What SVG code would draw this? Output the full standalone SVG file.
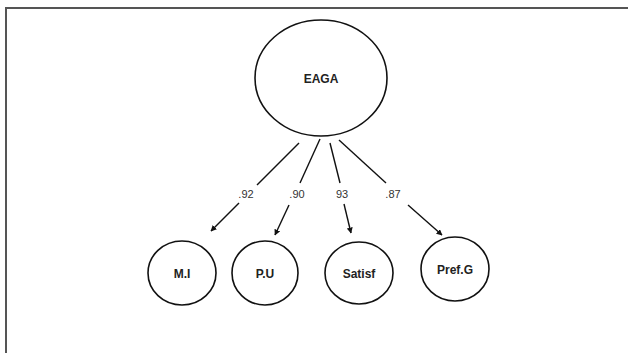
<svg xmlns="http://www.w3.org/2000/svg" width="628" height="353" viewBox="0 0 628 353">
<style>
.node{fill:#fff;stroke:#111;stroke-width:1.6}
.lbl{font-family:"Liberation Sans",Arial,sans-serif;font-weight:bold;font-size:12px;fill:#222;text-anchor:middle}
.coef{font-family:"Liberation Sans",Arial,sans-serif;font-size:11px;fill:#333;text-anchor:middle}
.edge{stroke:#111;stroke-width:1.4;fill:none}
</style>
<defs>
<marker id="ah" viewBox="0 0 10 10" refX="9" refY="5" markerWidth="6" markerHeight="6" orient="auto" markerUnits="userSpaceOnUse">
<path d="M0,0 L10,5 L0,10 z" fill="#111"/>
</marker>
</defs>
<rect width="628" height="353" fill="#fff"/>
<path d="M6,353 V8 H628" fill="none" stroke="#555" stroke-width="2"/>
<g id="EAGA"><ellipse class="node" cx="321" cy="78" rx="66" ry="58"/><text class="lbl" x="321" y="83">EAGA</text></g>
<g id="MI"><ellipse class="node" cx="182" cy="273" rx="34" ry="32"/><text class="lbl" x="182" y="278">M.I</text></g>
<g id="PU"><ellipse class="node" cx="265" cy="273" rx="33" ry="32"/><text class="lbl" x="265" y="278">P.U</text></g>
<g id="Satisf"><ellipse class="node" cx="359" cy="273" rx="34" ry="31"/><text class="lbl" x="359" y="278">Satisf</text></g>
<g id="PrefG"><ellipse class="node" cx="455" cy="269" rx="34" ry="32"/><text class="lbl" x="455" y="274">Pref.G</text></g>
<g id="connectors">
<line class="edge" x1="299" y1="143" x2="257" y2="185"/>
<line class="edge" x1="239" y1="203" x2="211" y2="231" marker-end="url(#ah)"/>
<text class="coef" x="246" y="198">.92</text>
<line class="edge" x1="320" y1="139" x2="300" y2="183"/>
<line class="edge" x1="289" y1="205" x2="275" y2="235" marker-end="url(#ah)"/>
<text class="coef" x="297" y="198">.90</text>
<line class="edge" x1="330" y1="143" x2="340" y2="183"/>
<line class="edge" x1="344" y1="204" x2="351" y2="233" marker-end="url(#ah)"/>
<text class="coef" x="342" y="198">93</text>
<line class="edge" x1="339" y1="140" x2="386" y2="183"/>
<line class="edge" x1="408" y1="205" x2="442" y2="235" marker-end="url(#ah)"/>
<text class="coef" x="393" y="198">.87</text>
</g>
</svg>
